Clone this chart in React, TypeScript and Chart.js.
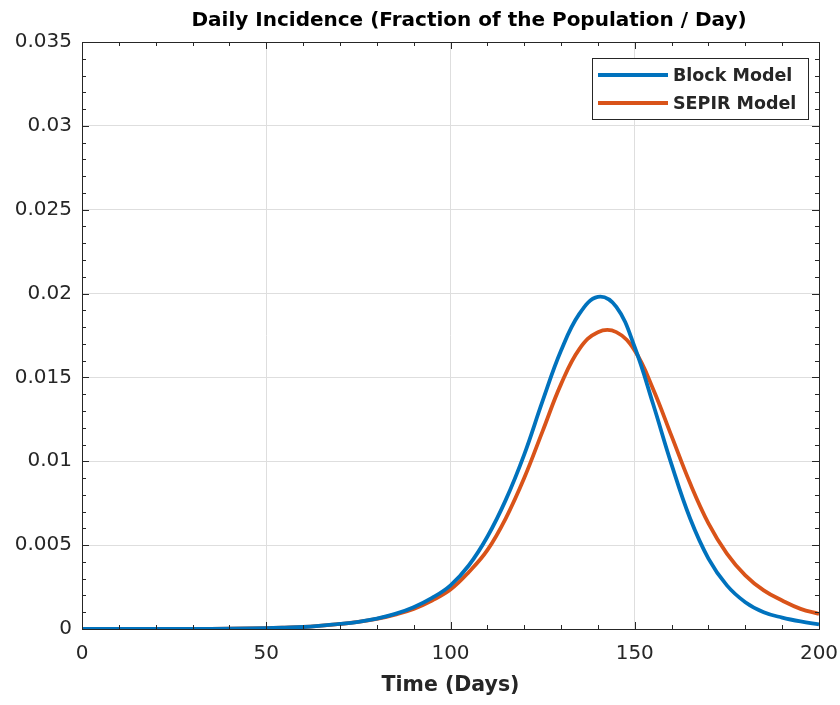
import React, { useEffect, useRef } from "react";
import { Chart, registerables } from "chart.js";

Chart.register(...registerables);

const TITLE = "Daily Incidence (Fraction of the Population / Day)";
const X_TITLE = "Time (Days)";
const SERIES_NAMES = ["Block Model", "SEPIR Model"];
const SERIES_COLORS = ["#0072BD", "#D95319"];

const DAYS = [0, 10, 20, 30, 40, 50, 55, 60, 65, 70, 75, 80, 85, 90, 95, 100, 105, 110, 115, 120, 125, 130, 135, 140, 145, 150, 155, 160, 165, 170, 175, 180, 185, 190, 195, 200];

const BLOCK = [0, 0.000002, 0.000005, 0.00001, 0.00002, 0.00005, 0.00008, 0.00012, 0.0002, 0.0003, 0.00043, 0.00062, 0.0009, 0.0013, 0.00185, 0.0026, 0.0038, 0.0055, 0.0077, 0.0104, 0.0136, 0.0166, 0.0188, 0.0198, 0.0192, 0.0168, 0.0134, 0.0098, 0.0066, 0.0042, 0.0026, 0.0016, 0.001, 0.00068, 0.00045, 0.00028];

const SEPIR = [0, 0.000002, 0.000005, 0.00001, 0.00002, 0.00005, 0.00008, 0.00012, 0.0002, 0.0003, 0.00042, 0.0006, 0.00086, 0.0012, 0.0017, 0.00235, 0.0034, 0.0047, 0.0066, 0.009, 0.0118, 0.0146, 0.0167, 0.0177, 0.0177, 0.0166, 0.0143, 0.0115, 0.0087, 0.0063, 0.0045, 0.0032, 0.0023, 0.0017, 0.0012, 0.0009];

const X_MIN = 0, X_MAX = 200, X_STEP = 50, X_MINOR = 10;
const Y_MIN = 0, Y_MAX = 0.035, Y_STEP = 0.005, Y_MINOR = 0.001;

const FONT = "'DejaVu Sans', 'Liberation Sans', Arial, sans-serif";
const AXIS_COLOR = "#262626";

const axesBoxPlugin = {
  id: "axesBox",
  afterDatasetsDraw(chart: any) {
    const { ctx, chartArea: a, scales } = chart;
    const xs = scales.x, ys = scales.y;
    ctx.save();
    ctx.strokeStyle = AXIS_COLOR;
    ctx.lineWidth = 1;
    ctx.strokeRect(Math.round(a.left) + 0.5, Math.round(a.top) + 0.5, Math.round(a.right - a.left), Math.round(a.bottom - a.top));
    ctx.beginPath();
    for (let v = X_MIN; v <= X_MAX + 1e-9; v += X_MINOR) {
      const major = Math.abs(v / X_STEP - Math.round(v / X_STEP)) < 1e-6;
      const len = major ? 7 : 4;
      const px = Math.round(xs.getPixelForValue(v)) + 0.5;
      ctx.moveTo(px, a.bottom); ctx.lineTo(px, a.bottom - len);
      ctx.moveTo(px, a.top); ctx.lineTo(px, a.top + len);
    }
    for (let i = 0; i <= Math.round((Y_MAX - Y_MIN) / Y_MINOR); i++) {
      const v = Y_MIN + i * Y_MINOR;
      const major = i % Math.round(Y_STEP / Y_MINOR) === 0;
      const len = major ? 7 : 4;
      const py = Math.round(ys.getPixelForValue(v)) + 0.5;
      ctx.moveTo(a.left, py); ctx.lineTo(a.left + len, py);
      ctx.moveTo(a.right, py); ctx.lineTo(a.right - len, py);
    }
    ctx.stroke();
    ctx.restore();
  },
  afterDraw(chart: any) {
    const { ctx, chartArea: a } = chart;
    const ds = chart.data.datasets;
    ctx.save();
    // title
    ctx.fillStyle = "#000000";
    ctx.font = `bold 20px ${FONT}`;
    ctx.textAlign = "center";
    ctx.textBaseline = "middle";
    ctx.fillText(TITLE, 469, 21);
    // legend
    ctx.textAlign = "left";
    const boxW = 216, rowH = 28, boxH = 61;
    const bx = a.right - 11 - boxW, by = a.top + 16;
    ctx.fillStyle = "#ffffff";
    ctx.fillRect(bx, by, boxW, boxH);
    ctx.strokeStyle = AXIS_COLOR;
    ctx.lineWidth = 1;
    ctx.strokeRect(Math.round(bx) + 0.5, Math.round(by) + 0.5, boxW, boxH);
    ctx.font = `bold 17.5px ${FONT}`;
    ds.forEach((d: any, i: number) => {
      const cy = by + 17 + i * rowH;
      ctx.strokeStyle = d.borderColor;
      ctx.lineWidth = 4;
      ctx.beginPath();
      ctx.moveTo(bx + 6, cy); ctx.lineTo(bx + 76, cy);
      ctx.stroke();
      ctx.fillStyle = AXIS_COLOR;
      ctx.fillText(d.label, bx + 81, cy + 1);
    });
    ctx.restore();
  },
};

export default function App() {
  const ref = useRef<HTMLCanvasElement | null>(null);
  useEffect(() => {
    if (!ref.current) return;
    const chart = new Chart(ref.current, {
      type: "line",
      data: {
        datasets: [BLOCK, SEPIR].map((vals, k) => ({
          label: SERIES_NAMES[k],
          data: DAYS.map((d, i) => ({ x: d, y: vals[i] })),
          borderColor: SERIES_COLORS[k],
          backgroundColor: SERIES_COLORS[k],
          borderWidth: 3.8,
          pointRadius: 0,
          tension: 0.4,
          fill: false,
        })),
      },
      options: {
        animation: false,
        responsive: true,
        maintainAspectRatio: false,
        layout: { padding: { left: 0, right: 21, top: 42, bottom: 0 } },
        plugins: {
          legend: { display: false },
          tooltip: { enabled: false },
          title: { display: false },
        },
        scales: {
          x: {
            type: "linear",
            min: X_MIN,
            max: X_MAX,
            afterFit: (s: any) => { s.height = 76; s.paddingLeft = 0; s.paddingRight = 0; },
            ticks: {
              stepSize: X_STEP,
              color: AXIS_COLOR,
              font: { family: FONT, size: 20 },
              padding: 13,
              maxRotation: 0,
            },
            grid: { color: "#dedede", drawTicks: false, lineWidth: 1 },
            border: { display: false },
            title: {
              display: true,
              text: X_TITLE,
              color: AXIS_COLOR,
              font: { family: FONT, size: 20.5, weight: "bold" },
              padding: { top: 4, bottom: 7 },
            },
          },
          y: {
            type: "linear",
            min: Y_MIN,
            max: Y_MAX,
            afterFit: (s: any) => { s.width = 82; s.paddingTop = 0; s.paddingBottom = 0; },
            ticks: {
              stepSize: Y_STEP,
              color: AXIS_COLOR,
              font: { family: FONT, size: 20 },
              padding: 10,
              callback: (v: any) => String(Number(Number(v).toFixed(3))),
            },
            grid: { color: "#dedede", drawTicks: false, lineWidth: 1 },
            border: { display: false },
          },
        },
      },
      plugins: [axesBoxPlugin],
    });
    return () => chart.destroy();
  }, []);
  return (
    <div style={{ position: "fixed", left: 0, top: 0, width: 840, height: 705, background: "#fff" }}>
      <canvas ref={ref} />
    </div>
  );
}
